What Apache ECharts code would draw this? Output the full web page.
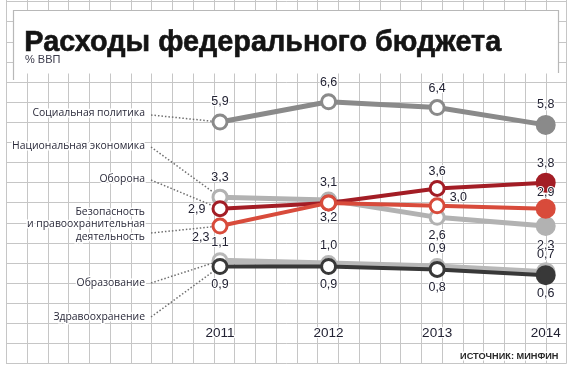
<!DOCTYPE html>
<html><head><meta charset="utf-8">
<script src="https://cdn.jsdelivr.net/npm/echarts@6/dist/echarts.min.js"></script>
<style>html,body{margin:0;padding:0;background:#fff}#c{width:570px;height:369px}</style>
</head><body><div id="c"></div>
<script>
// ---- data ----
const years = ['2011', '2012', '2013', '2014'];
const seriesNames = ['Социальная политика', 'Национальная экономика', 'Оборона',
  'Безопасность\nи правоохранительная\nдеятельность', 'Образование', 'Здравоохранение'];
const social = [5.9, 6.6, 6.4, 5.8];
const economy = [3.3, 3.2, 2.6, 2.3];
const defense = [2.9, 3.1, 3.6, 3.8];
const security = [2.3, 3.1, 3.0, 2.9];
const education = [1.1, 1.0, 0.9, 0.7];
const health = [0.9, 0.9, 0.8, 0.6];
const titleText = 'Расходы федерального бюджета';
const subtitleText = '% ВВП';
const sourceText = 'ИСТОЧНИК: МИНФИН';

// ---- styling / layout ----
const NARROW = '"Liberation Sans Narrow","Arial Narrow","Liberation Sans",sans-serif';
const ROUND = '"Open Sans","Noto Sans",sans-serif';
const colors = ['#8a8a8a', '#b2b2b2', '#a31d25', '#d84b3b', '#b8b8b8', '#383838'];
const widths = [5, 5, 4, 4, 6, 4];
// label placement per point: [position, distance, offset]
const labelPlaces = [
  [['top', 5], ['top', 4], ['top', 4], ['top', 4]],
  [['top', 5], ['bottom', 3], ['bottom', 3], ['bottom', 3]],
  [['left', 6, [0, 1]], ['top', 5], ['top', 2], ['top', 3]],
  [['left', 2, [0, 12]], null, ['right', 4, [0, -8]], ['top', 0]],
  [['top', 3], ['top', 3], ['top', 3], ['top', 1]],
  [['bottom', 3], ['bottom', 3], ['bottom', 3], ['bottom', 2]]
];
const leftLabelY = [113, 146, 179, 212, 283, 317];
const leaderStartY = [115, 147, 180, 233, 283, 317];

const allData = [social, economy, defense, security, education, health];

function fmt(v) { return v.toFixed(1).replace('.', ','); }

const series = allData.map((arr, si) => ({
  type: 'line',
  name: seriesNames[si],
  z: 3 + si,
  symbol: 'circle',
  lineStyle: { color: colors[si], width: widths[si] },
  itemStyle: { color: '#fff', borderColor: colors[si], borderWidth: 3 },
  emphasis: { disabled: true },
  animation: false,
  data: arr.map((v, i) => {
    const last = i === arr.length - 1;
    const lp = labelPlaces[si][i];
    return {
      value: v,
      symbolSize: last ? 17 : 14,
      itemStyle: last ? { color: colors[si], borderColor: colors[si] } : undefined,
      label: lp ? {
        show: true, position: lp[0], distance: lp[1], offset: lp[2] || [0, 0],
        formatter: () => fmt(v),
        fontFamily: NARROW, fontSize: 12.5, color: '#222233',
        textBorderColor: '#fff', textBorderWidth: 2
      } : { show: false }
    };
  })
}));

// background grid
const bg = [];
const gx0 = 6, gdx = 20.75, gy0 = 1.3, gdy = 20.11;
for (let k = 0; k <= 27; k++) {
  const x = Math.round(gx0 + k * gdx) + 0.5;
  bg.push({ type: 'line', silent: true, z: -10, shape: { x1: x, y1: 0, x2: x, y2: 363.5 }, style: { stroke: '#c6c6c6', lineWidth: 1 } });
}
for (let k = 0; k <= 18; k++) {
  const y = Math.round(gy0 + k * gdy) + 0.5;
  bg.push({ type: 'line', silent: true, z: -10, shape: { x1: 6, y1: y, x2: 566.5, y2: y }, style: { stroke: '#c6c6c6', lineWidth: 1 } });
}
// title panel
bg.push({ type: 'rect', silent: true, z: -5, shape: { x: 13.5, y: 10.5, width: 545, height: 63 }, style: { fill: '#fff', stroke: null } });
bg.push({ type: 'polyline', silent: true, z: -4, shape: { points: [[13.5, 80], [13.5, 10.5], [558.5, 10.5], [558.5, 73]] }, style: { fill: null, stroke: '#b8b8b8', lineWidth: 1.2 } });
bg.push({ type: 'text', silent: true, z: 10, left: 24, top: 28, style: { text: titleText, fontFamily: '"Liberation Sans",Arial,sans-serif', fontWeight: 'bold', fontSize: 28.8, fill: '#141414', stroke: '#141414', lineWidth: 0.6 } });
bg.push({ type: 'text', silent: true, z: 10, left: 25, top: 54, style: { text: subtitleText, fontFamily: NARROW, fontSize: 11, fill: '#3a3a4a' } });
bg.push({ type: 'text', silent: true, z: 10, right: 10, top: 350, style: { text: sourceText, fontFamily: NARROW, fontWeight: 'bold', fontSize: 9.2, fill: '#2a2a2a', stroke: '#fff', lineWidth: 3 } });
// left category labels
seriesNames.forEach((n, i) => {
  bg.push({ type: 'text', silent: true, z: 10, x: 145, y: leftLabelY[i],
    style: { text: n, align: 'right', verticalAlign: 'middle', fontFamily: ROUND, fontSize: 10.4, lineHeight: 12.5, fill: '#2a2a3a', stroke: '#fff', lineWidth: 3 } });
});
// adjust multi-line security label to start at top line
bg[bg.length - 3].style.verticalAlign = 'top';
bg[bg.length - 3].y = leftLabelY[3] - 6.5;

const chart = echarts.init(document.getElementById('c'), null, { renderer: 'canvas' });
const option = {
  animation: false,
  backgroundColor: 'transparent',
  grid: { left: 220, right: 24.3, top: 90.2, bottom: 76.5 },
  xAxis: {
    type: 'category', data: years, boundaryGap: false,
    axisLine: { show: false }, axisTick: { show: false }, splitLine: { show: false },
    axisLabel: { margin: 34, fontFamily: NARROW, fontSize: 13.5, color: '#222233', textBorderColor: '#fff', textBorderWidth: 2 }
  },
  yAxis: { type: 'value', min: 0, max: 7, show: false },
  graphic: { elements: bg },
  series: series
};
chart.setOption(option);

// dotted leader lines from left labels to the first point of each series
const leaders = allData.map((arr, si) => {
  const p = chart.convertToPixel({ seriesIndex: si }, [0, arr[0]]);
  return { type: 'line', silent: true, z: 1, shape: { x1: 151, y1: leaderStartY[si], x2: p[0], y2: p[1] },
    style: { stroke: '#6f6f6f', lineWidth: 1.5, lineDash: [1.5, 2] } };
});
chart.setOption({ graphic: { elements: bg.concat(leaders) } });
</script></body></html>
